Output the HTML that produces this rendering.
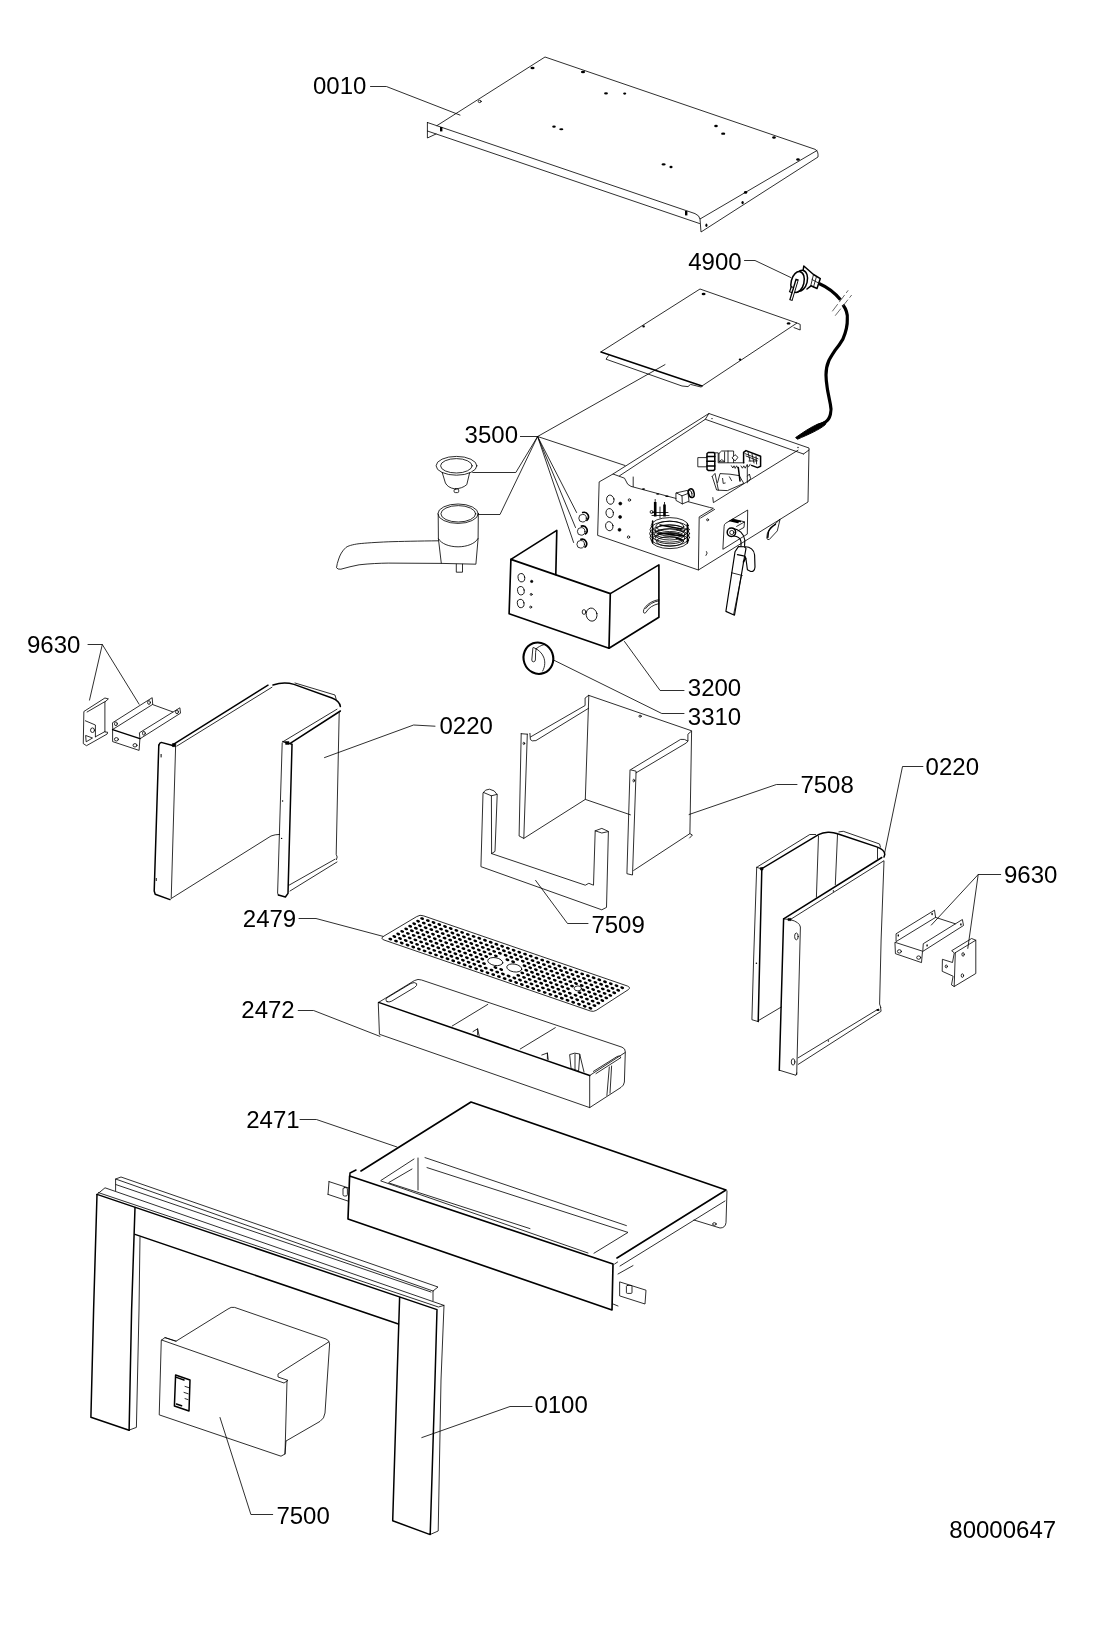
<!DOCTYPE html>
<html><head><meta charset="utf-8"><title>80000647</title>
<style>
html,body{margin:0;padding:0;background:#fff}
svg{display:block;will-change:transform}
text{font-family:"Liberation Sans",sans-serif;font-size:24px;fill:#000}
.t{fill:none;stroke:#000;stroke-width:.82;stroke-linejoin:round;stroke-linecap:round}
.k{fill:none;stroke:#000;stroke-width:1.65;stroke-linejoin:round;stroke-linecap:round}
.k15{fill:none;stroke:#000;stroke-width:1.5;stroke-linejoin:round;stroke-linecap:round}
.k16{fill:none;stroke:#000;stroke-width:1.5;stroke-linejoin:round;stroke-linecap:round}
.k17{fill:none;stroke:#000;stroke-width:1.65;stroke-linejoin:round;stroke-linecap:round}
.k14{fill:none;stroke:#000;stroke-width:1.5;stroke-linejoin:round;stroke-linecap:round}
.k2{fill:none;stroke:#000;stroke-width:2.1}
.k11{fill:none;stroke:#000;stroke-width:1.15;stroke-linejoin:round;stroke-linecap:round}
.wf{fill:#fff}
.dot{fill:#000;stroke:none}
.dotr{fill:#000;stroke:#000;stroke-width:.6}
.cable{fill:none;stroke:#000;stroke-width:3.2;stroke-linecap:butt}
.fillk{fill:#000;stroke:#000;stroke-width:1;stroke-linejoin:round}
.dash{fill:none;stroke:#444;stroke-width:.8;stroke-dasharray:9 2.5}
.prong{fill:none;stroke:#000;stroke-width:3.4;stroke-linecap:butt}
.prongi{fill:none;stroke:#fff;stroke-width:1.2;stroke-linecap:butt}
.term{fill:none;stroke:#000;stroke-width:2.6}
</style></head><body>
<svg width="1100" height="1647" viewBox="0 0 1100 1647">
<rect width="1100" height="1647" fill="#fff"/>
<!-- 0010 top plate -->
<path class="t" d="M437,125.6 L545,57 L815,149.3 Q818.6,151 818,157 L701,232 L700,219"/>
<path class="t" d="M427.4,122.5 L695,213.6 Q699.5,215.5 700,219 L817,150.5"/>
<path class="t" d="M427.4,131 L699.5,223.5"/>
<path class="t" d="M427.4,122.5 V138 L436,134"/>
<g class="dot">
<ellipse cx="532.5" cy="68" rx="2.08" ry="1.17"/><ellipse cx="583" cy="72" rx="2.08" ry="1.17"/>
<ellipse cx="606" cy="93.3" rx="1.95" ry="1.17"/><ellipse cx="624.7" cy="93.6" rx="1.56" ry="1.04"/>
<ellipse cx="554" cy="126.6" rx="1.82" ry="1.17"/><ellipse cx="561.3" cy="129.3" rx="2.08" ry="1.04"/>
<ellipse cx="716" cy="126" rx="1.82" ry="1.30"/><ellipse cx="723.2" cy="133.7" rx="2.08" ry="1.17"/>
<ellipse cx="774" cy="137.5" rx="1.82" ry="1.17"/><ellipse cx="798" cy="159.5" rx="1.82" ry="1.17"/>
<ellipse cx="663.6" cy="164.4" rx="2.08" ry="1.04"/><ellipse cx="671" cy="167" rx="1.56" ry="1.17"/>
<ellipse cx="745.6" cy="192.4" rx="1.69" ry="1.30"/><ellipse cx="742.6" cy="202.6" rx="1.17" ry="1.69"/>
<ellipse cx="706.4" cy="225.2" rx="1.04" ry="1.69"/>
<rect x="440" y="127" width="2.4" height="4.4"/><rect x="685" y="211" width="2.4" height="4.4"/>
</g>
<ellipse class="t" cx="479.7" cy="101.4" rx="1.5" ry="1.2"/>

<!-- small plate (3500) -->
<path class="t" d="M601,351.8 L700,289 L797,323 L702,386"/>
<path class="k15" d="M601,352 L702,386"/>
<path class="t" d="M797,323 L800.2,324.4 V330 L794,327.6"/>
<path class="t" d="M608.5,355.6 L606,359.2 L682,386 L688,386.6 L690.5,384.4 L701,387"/>
<g class="dot"><ellipse cx="703.6" cy="294" rx="1.95" ry="1.17"/><ellipse cx="788.6" cy="323.4" rx="1.82" ry="1.17"/>
<ellipse cx="643.6" cy="326.4" rx="1.30" ry="1.04"/><ellipse cx="740" cy="359.6" rx="1.30" ry="1.04"/></g>

<!-- 4900 plug + cable -->
<path class="cable" d="M819,283.5 C827,287 835,293 840.5,299.8"/>
<path class="cable" d="M842.9,304.7 C846,309 847.8,314 847.3,319 C847.6,326 845.5,333 842.9,339.1 C840,344 837,348 835.3,350 C832,355 830,358 828.7,361 C826.5,366 826,371 826,375.1 C826,381 827,386 827.6,390.4 L830.4,404.5 C831.3,408 831.3,411 830.4,414.4 C829.5,418 828,420.5 825.5,422 C822,424.5 819,425.5 816.7,426.4"/>
<path class="fillk" d="M818,424 L826.4,421.2 L825.4,424.6 C819,430 808,434.6 797.6,439.2 L795.6,437.6 C803,432.4 810,427.6 818,424 Z"/>
<path class="dash" d="M832.3,311.3 L848.2,290.3 M835.2,315.7 L851.7,295"/>
<path class="k15 wf" d="M803.2,270 L803.8,266 L813.5,274.5 L820.3,278.6 L817,288.5 L811,285.8 L807,289"/>
<path class="t" d="M813.5,274.5 L810.8,285.5 M816.5,276.5 L813.5,287 M812,279.5 L818.5,283"/>
<g transform="rotate(14 800 281)"><ellipse class="k15 wf" cx="800.6" cy="280.6" rx="6.6" ry="10.6"/></g>
<g transform="rotate(14 797.6 282)"><ellipse class="k15 wf" cx="797.6" cy="282" rx="6.4" ry="10.6"/></g>
<path class="prong" d="M797.2,279 L790.8,300.6"/>
<path class="prongi" d="M797,280.6 L791.2,299.6"/>
<path class="prong" d="M792.6,286.6 L790.4,292.6"/><path class="prongi" d="M792.3,287.6 L790.8,291.8"/>

<!-- 3500 box -->
<path class="t wf" d="M599.5,481.7 L613,474 L624.5,478.2 L627.7,484.2 L631,486.4 L709.5,507.4 L713.4,508.3 L699.2,516.9 L698.4,570 L598,535.5 Z"/>
<path class="t" d="M613,474 L708.9,413.5 L809,448 L808,502 L698.4,570"/>
<path class="t" d="M712.8,497.6 L713.4,502.6 L798,450.2"/>
<path class="t" d="M700.6,518 L714.6,509.4"/>
<path class="t" d="M619.5,475.8 L705.3,419.3 L803.5,454"/>
<path class="t" d="M705.3,419.3 L708.9,413.5 M803.5,454 L809,450"/>
<path class="t" d="M633.2,477 V486.6"/>
<g class="dot"><ellipse cx="643.5" cy="489.1" rx="1.6" ry="0.8"/><ellipse cx="657.7" cy="494" rx="1.6" ry="0.8"/><ellipse cx="667" cy="496.3" rx="1.8" ry="0.8"/>
<circle cx="712" cy="418.6" r="0.7"/><circle cx="798" cy="447.5" r="0.7"/></g>
<!-- front-left face holes -->
<ellipse class="t" cx="610.3" cy="499.7" rx="3.7" ry="4.6" transform="rotate(-12 610.3 499.7)"/>
<ellipse class="t" cx="609.7" cy="513.1" rx="3.7" ry="4.6" transform="rotate(-12 609.7 513.1)"/>
<ellipse class="t" cx="609.3" cy="526.2" rx="3.7" ry="4.6" transform="rotate(-12 609.3 526.2)"/>
<g class="dotr"><circle cx="620.3" cy="503.6" r="1.5"/><circle cx="620.1" cy="516.9" r="1.5"/><circle cx="619.5" cy="529.8" r="1.5"/></g>
<circle class="t" cx="629.4" cy="500" r="1.2"/><circle class="t" cx="628.5" cy="537.1" r="1.2"/>
<circle class="t" cx="707.6" cy="519.8" r="1"/><path class="t" d="M706.6,551.5 q1.6,1.2 -0.6,4"/>
<!-- cylinder on top edge -->
<path class="t wf" d="M676.3,492.9 L687.7,490.3 L689,501.2 L682.3,503.9 L676.3,500.6 Z"/>
<path class="t" d="M676.3,492.9 L682,495.8 L682.3,503.9 M682,495.8 L688,493.5"/>
<ellipse class="k15 wf" cx="691.3" cy="493.2" rx="2.8" ry="4.4" transform="rotate(-15 691.3 493.2)"/>
<ellipse class="t" cx="690.3" cy="493.5" rx="1.6" ry="3.2" transform="rotate(-15 690.3 493.5)"/>
<!-- coil -->
<g class="t">
<ellipse cx="669.8" cy="525.6" rx="18.6" ry="8"/><ellipse cx="669.8" cy="526.4" rx="14" ry="5.2"/>
<ellipse cx="669.6" cy="529.6" rx="19.6" ry="8.4"/><ellipse cx="669.8" cy="530.4" rx="15" ry="5.6"/>
<ellipse cx="669.6" cy="533.6" rx="20" ry="8.6"/><ellipse cx="669.8" cy="534.4" rx="15.4" ry="5.6"/>
<ellipse cx="669.8" cy="537.4" rx="19.8" ry="8.6"/><ellipse cx="670" cy="538.4" rx="15" ry="5.4"/>
<ellipse cx="670" cy="540.6" rx="18.6" ry="8"/><ellipse cx="670" cy="541.4" rx="13.6" ry="4.8"/>
</g>
<path class="k15" d="M652.6,521 V543 M687.4,524 V543 M660,525 L682,529 M658,533 L684,536 M676,538 L682,540"/>
<!-- terminals -->
<path class="term" d="M655.2,502 V516.5 M664.5,504.6 V516.5"/><path class="t" d="M655.2,499.4 V503 M664.5,502.4 V505"/>
<path class="t" d="M652,512.5 H668 M652,515.5 H669 M660,507 V518"/>
<circle class="t" cx="651.6" cy="512" r="1.5"/>
<!-- valve assembly -->
<rect class="t wf" x="698.2" y="457.6" width="9.5" height="9.2"/>
<path class="k15 wf" d="M707,453.5 L708.5,452.4 H713.6 L714.8,453.5 V469.4 L713.6,470.6 H708.5 L707,469.4 Z"/>
<path class="k15" d="M707,456.6 H714.8 M707,461.2 H714.8 M707,466 H714.8"/>
<path class="t" d="M714.8,452.8 H718.2 V462.8 H744 M719,453.4 L721.6,451 H733.6 V462.6 M719,453.4 V461.8 H724.6 V452 M728,451 V462.6 M724.6,461.8 L721.8,459.6 L719.2,461.6"/>
<path class="t wf" d="M732.2,457.7 L735,454.7 L738,457.3 L735.4,460.6 Z"/>
<path class="k15" d="M743.6,462.8 V452.4 L746,450.6 L760.6,456.2 V466.2 L757.5,467.6 L751.5,465.4"/>
<path class="t" d="M745,453.6 L758,458.8 M746,456 L757,460.4 M748,452 L750,461 M752,454 L754,463 M756,456 L756.6,464 M749,461 H757"/>
<path class="t" d="M731.4,465.8 l1.4,2.2 l1.2,-2.2 l1.2,2.6 l1.4,-2.6 l1.4,2.4 M741,466 l1.4,2.2 l1.4,-2.4 l1.4,2.4 l1.6,-3 l1.8,1.6 l1.6,-2.6"/>
<path class="k15" d="M738.3,467.5 L740,481"/>
<path class="t" d="M747.3,464.6 V482.8 M747.5,476 L749.4,474 L750.6,478.4 L748.8,481.2"/>
<path class="t" d="M712.2,476.4 L715,473.4 L718.4,490.2 L727.4,490.6 L743.8,483.4 L739.2,475.6 L730,474.2 L720,473.6 L717.6,482.6 M712.2,476.4 L716.6,490 L718.4,490.2 M722.6,478.4 L723.2,483.4 L725.2,483 M729.4,476.8 L731.6,480.6"/>
<!-- hook at right -->
<path class="t" d="M780,519.6 L777.3,530.9 L769.2,539.6 Q767,540 766.8,538 L767.3,533.6 Q769,529.6 772.7,526.4 Z"/>
<path class="k15" d="M775.4,524.4 Q770,527.4 768.4,531.8 L767.8,537.4"/>
<!-- cutout on right face and wand -->
<path class="t" d="M724.1,526 Q724.1,524.3 725.6,523.3 L747.7,510 L747.3,534.1 L723.2,549.1 Z"/>
<path class="t" d="M729.1,521.2 L732.7,519.1 L744.5,521.8 L744,527.4 L738,530.8 M736.6,526.4 L744.4,522"/>
<path class="k15" d="M730.4,520.8 L738,522.6 M732.4,519.8 L740.4,521.6"/>
<circle class="k15 wf" cx="731.4" cy="532.3" r="4.2"/><circle class="t" cx="731.8" cy="532.5" r="2.1"/>
<path class="k11" d="M733,528.4 C739,529.4 744,533.6 744.8,540 L744.6,545.4 M733.6,536 C737,536.2 740.4,538 741,541.6 L741,545.4"/>
<path class="k11 wf" d="M735,551.8 L738.4,546.6 L744.5,546.8 L746,548.4 L743.6,561.8 L734.5,615.2 L725.9,611.4 Z"/>
<path class="k11" d="M744.5,546.8 C750,546.4 754.4,550 754.6,555 L755,567 C754.8,571 752.4,572.2 749.8,571 L747.4,569.8 L745.9,558.2 Q745.6,556 743.6,555.9 L737.4,554.6"/>
<path class="t" d="M731.4,572.7 L742.3,575.5 M741.4,575.6 L733.6,614.6"/>
<path class="k15" d="M743.4,562 L745.6,558.4"/>
<!-- push buttons -->
<path class="k" d="M582.7,512.5 A4.5,4.5 0 0 1 586.8,520.3"/><circle class="t wf" cx="582.6" cy="518.2" r="3.8"/>
<path class="k" d="M581.4,526.1 A4.5,4.5 0 0 1 585.5,533.9"/><circle class="t wf" cx="581.2" cy="531.4" r="3.8"/>
<path class="k" d="M580.9,539.3 A4.5,4.5 0 0 1 585.0,547.1"/><circle class="t wf" cx="580.7" cy="544.3" r="3.8"/>
<!-- filter basket -->
<ellipse class="t" cx="456.5" cy="465.8" rx="20.4" ry="9.4"/><ellipse class="t" cx="456.4" cy="465.8" rx="15.8" ry="7.2"/>
<path class="t" d="M442.2,472.4 L445.4,483 Q447.8,487.6 454.4,488.8 Q462,488.8 466.8,484.6 L469.6,472.8"/>
<rect class="t" x="454.1" y="489" width="4.6" height="3.6" rx="1.2"/>
<!-- portafilter -->
<ellipse class="t" cx="458.1" cy="513.7" rx="20.2" ry="9.7"/><ellipse class="t" cx="458.3" cy="513.8" rx="17.4" ry="8.2"/>
<path class="t" d="M438.2,513.9 L438.4,538.6 L441.3,563.4 L475.9,564.2 L478.1,538.6 L478.3,513.9"/>
<path class="t" d="M438.4,538.6 C444,549.6 472,549.8 478.1,538.4"/>
<path class="t" d="M456.3,564.2 V572.2 H462.5 V564.2"/>
<path class="t" d="M438.4,540.8 C420,541 400,541.4 388.2,541.8 C375,542.4 366,543 359.1,543.7 C352,544.6 348,546 346,547.4 C342,551 340,555 338.7,559 C337.6,562 336.8,565 336.5,567.7 Q337.6,569.6 340.9,569.2 C347,567.6 353,565.8 359.1,564.8 C370,563.6 380,563.2 388.2,563.1 L441.3,563.4"/>

<!-- 3200 cover -->
<path class="k wf" d="M510.9,559.4 L610.3,593.6 L609,648.2 L509.1,613.8 Z"/>
<path class="k" d="M510.9,559.4 L556.8,530.4 L555.8,574.6"/>
<path class="k" d="M610.3,593.6 L658.9,564.9 V617.2 L609,648.2"/>
<path class="t" d="M658.9,599.6 C653,600.4 647.6,603.6 644.6,608 C642.6,611.4 643.2,614.4 645.8,612.6 C648.6,607.6 653,605 658.9,603.6"/>
<path class="t" d="M658.9,600.8 C653.6,601.6 648.6,604.4 645.6,608.6"/>
<ellipse class="t" cx="521.4" cy="577.7" rx="3.3" ry="4.2" transform="rotate(-12 521.4 577.7)"/>
<ellipse class="t" cx="520.9" cy="590.7" rx="3.3" ry="4.2" transform="rotate(-12 520.9 590.7)"/>
<ellipse class="t" cx="520.7" cy="603.5" rx="3.3" ry="4.2" transform="rotate(-12 520.7 603.5)"/>
<g class="dotr"><circle cx="531.7" cy="581.4" r="1.2"/></g><circle class="t" cx="531.2" cy="594.4" r="1"/><circle class="t" cx="530.7" cy="607.1" r="1"/>
<ellipse class="t" cx="591.6" cy="614.6" rx="5.4" ry="6.6" transform="rotate(-12 591.6 614.6)"/><ellipse class="t" cx="584" cy="612" rx="1.8" ry="2.4"/>
<!-- 3310 knob -->
<ellipse class="k2" cx="538.4" cy="658.2" rx="14.8" ry="15.8" transform="rotate(-20 538.4 658.2)"/>
<path class="t" d="M533.5,647.5 C538,649 542,653 543.6,657 C545.2,661 545.4,666 542.7,671"/>
<path class="t" d="M535.6,649.1 C538,647 541,645.4 543.8,644.7"/>
<path class="t" d="M532.9,648 L531.8,660 Q532,662 533.6,661.8 Q535.2,661.6 535.4,660 L535.6,652.4 Q535.6,650 536.6,649"/>
<!-- 9630 left: small bracket -->
<path class="t" d="M84.2,711.3 L104.9,698 L108.4,698.9 L104.9,702 V732 L107.6,732.2 L107.2,734 L86.5,745.7 L83.6,743.8 Z"/>
<path class="t" d="M87.1,712 L105,701.6 M85.4,720.8 L95.4,725 V736.8 M86,735.6 L92.5,738 L86.5,741.6 Z M95.4,736.8 L104.9,731.6"/>
<ellipse class="t" cx="92.5" cy="730.2" rx="2" ry="2.3"/>
<!-- 9630 left: channel bracket -->
<path class="t" d="M112.8,722.6 L152.2,697.7 L152.7,704.4 L113.1,729.2 Z"/>
<path class="t" d="M152.7,704.6 L172.8,711.9"/>
<path class="t" d="M139.7,732.6 L179.9,707.8 L180.5,713.2 L140.3,738.6 Z"/>
<path class="k15" d="M112.6,729.6 L139.9,738.6"/>
<path class="t" d="M112.6,729.6 V741.6 L139.1,750.4 L139.9,738.6"/>
<ellipse class="t" cx="115.9" cy="723.8" rx="1.4" ry="1.9"/><ellipse class="t" cx="149" cy="702.5" rx="1.4" ry="1.9"/>
<ellipse class="t" cx="143.9" cy="733.3" rx="1.4" ry="1.9"/><ellipse class="t" cx="177" cy="711.9" rx="1.4" ry="1.9"/>
<ellipse class="t" cx="116.4" cy="739.3" rx="2" ry="1.7"/><ellipse class="t" cx="135" cy="745.3" rx="2" ry="1.7"/>
<!-- 0220 left panel -->
<path class="k15" d="M159,745 Q159.4,742.6 161.2,742.4 L173.6,745.8"/>
<path class="k16" d="M158.8,745 L154.2,891 L155.2,894.2 L170,899.6"/>
<path class="t" d="M175.6,746.6 L171.2,898.6"/>
<path class="k16" d="M173.4,744.4 L268,685.2"/>
<path class="t" d="M177,746 L272,687.2"/>
<path class="dotr" d="M172.4,743.6 h3.4 v3 h-3.4 z"/>
<path class="k16" d="M273,685 C279,683 288,682.6 294,684.4 L332,698 C337,700 340,703 340.4,706.6"/>
<path class="t" d="M295,683 L335,695 L336.2,699.4"/>
<path class="t" d="M282.8,741.8 L337,709.2"/>
<path class="k16" d="M290.6,743.2 L340.4,711"/>
<path class="t" d="M339.2,712.6 L336.2,854.4 L337.2,857 L336.4,859.6"/>
<path class="k15" d="M283,741.6 L292,744.2"/>
<path class="t" d="M282.2,743 L277.6,893 L278.4,895.2"/>
<path class="k16" d="M292,745 L288,893.4 L285.4,897 L278.4,895"/>
<path class="t" d="M289,885.2 L335,859.2 M290,891 L337,862"/>
<path class="t" d="M172,898 L271,836 Q275,834.4 279.6,834.4"/>
<g class="dot"><circle cx="282.6" cy="801" r="0.7"/><circle cx="281.6" cy="838.4" r="0.7"/><rect x="160.6" y="754" width="1" height="3.4"/><rect x="155.8" y="878" width="0.9" height="3"/></g>
<path class="dotr" d="M285.6,741.6 h3.4 v2.8 h-3.4 z"/>

<!-- 7508 -->
<path class="t" d="M588.8,695.4 L691.6,730.8 L689.9,833.6 L633.7,870.4"/>
<path class="t" d="M588.8,695.4 L585.3,799.4 L630.4,814.8 M585.3,799.4 L523.8,838.4"/>
<path class="t" d="M521.2,733.7 L527.3,734.2 M529.9,733.4 L530.4,739.6 Q531.5,741.6 535.9,740.6 L588.4,708.4"/>
<path class="t" d="M530.6,736.9 L585.1,705.5 V698 L588.6,695.4"/>
<path class="t" d="M521.2,733.7 L519.1,836 L523.8,838.4 L527.3,734.2"/>
<path class="t" d="M630.4,769.8 L636.1,771.2 L632.5,875 L627.3,873.8 Z"/>
<path class="t" d="M631.4,769.2 L680.6,739.4 Q684.6,738.6 687.9,741.1 V734.2 L691.4,731.2"/>
<path class="t" d="M636.1,772.8 L686.4,742.9 L687.9,741.1"/>
<ellipse class="t" cx="640.1" cy="716.2" rx="1.2" ry="1"/><ellipse class="t" cx="633.8" cy="780.6" rx="0.8" ry="1.4"/><ellipse class="t" cx="523.9" cy="743.4" rx="0.8" ry="1.2"/>
<path class="t" d="M689.9,833.6 L692.4,835 L689.6,838"/>
<!-- 7509 -->
<path class="t" d="M483.2,792.6 Q485,789.2 489.5,789.2 Q495,790 497.2,794.6 L495,851.4 L491.6,853.6 L585.3,885.2 L588.8,883.3 L593.5,885.2 L595.2,830.8 L601.8,828.4 L608.4,831.4 L606.5,907.4 L601.8,909.8 L481.3,866.8 Z"/>
<path class="t" d="M483.4,792.4 L491.4,795.8 L491.6,853.6 M491.4,795.8 L497,794.4"/>
<path class="t" d="M595.2,830.8 L601.8,833 L608.2,831.6"/>
<!-- 0220 right panel -->
<path class="t" d="M756.7,867.3 L753.6,960 L751.9,1019.7 L758.2,1021.6"/>
<path class="k16" d="M761.8,869.5 L758.2,1021.5"/>
<path class="t" d="M756.7,867.3 L761.8,869"/>
<path class="t" d="M757.5,866.8 L809.8,834.5 H815.6"/>
<path class="k16" d="M761.8,868.7 L818.5,834.6 C824,831.6 832,831.4 837.5,833.8 L876.7,846.9 C881,848.4 884.6,851 884.8,854.4 L884,857"/>
<path class="t" d="M838.9,831.9 L843.3,831.3 L879.6,844 L880.4,847"/>
<path class="t" d="M818.5,836 L816.4,897.2 M837.5,834.5 L835.3,884.8 M877.5,847.6 V858.6"/>
<path class="k16" d="M783.6,918.9 L881.8,857.5"/>
<path class="t" d="M790.2,919.6 L884,860.7 L881.1,940 L879.6,1004 L880.8,1007.6"/>
<path class="k16" d="M783.6,918.9 L779.3,1070.2"/>
<path class="t" d="M783.6,918.9 L790.2,919.6 Q799.6,922 800.4,927 L796.7,1074.5"/>
<path class="t" d="M779.3,1070.2 L796,1075.3 L796.8,1073"/>
<path class="t" d="M798.2,1057.8 L878.2,1009.1 M798.2,1064.4 L881.1,1011.3 L880.6,1007.6"/>
<path class="t" d="M758.2,1020.7 L781.5,1006.9"/>
<ellipse class="t" cx="796.4" cy="936.4" rx="1.8" ry="3.4"/><ellipse class="t" cx="793.1" cy="1061.9" rx="1.8" ry="3.2"/>
<g class="dot"><circle cx="756.4" cy="963.3" r="0.8"/><circle cx="833.4" cy="891" r="0.7"/><circle cx="828.4" cy="1041" r="0.7"/><ellipse cx="878" cy="1010" rx="1.6" ry="1"/></g>
<!-- 9630 right: channel -->
<path class="t" d="M896.4,933.6 L934.5,910.2 L935.6,917.4 L896.4,941.4 Z"/>
<path class="t" d="M935.6,917.4 L955.3,923.8"/>
<path class="t" d="M923.6,943.5 L962.4,919.5 L963.5,925.5 L923.1,951.2 Z"/>
<path class="t" d="M895.3,942.4 L922.5,951.2 L921.5,962.6 L895.8,953.8 Z"/>
<g class="dot"><ellipse cx="898.3" cy="935.4" rx="0.7" ry="1.2"/><ellipse cx="932.1" cy="914" rx="0.7" ry="1.2"/><ellipse cx="927.1" cy="945.4" rx="0.7" ry="1.2"/><ellipse cx="960.9" cy="924.4" rx="0.7" ry="1.2"/></g>
<ellipse class="t" cx="899.4" cy="951.4" rx="2" ry="1.7"/><ellipse class="t" cx="918.7" cy="957.6" rx="2" ry="1.7"/>
<!-- 9630 right: small bracket -->
<path class="t" d="M952,950.5 L971.6,938.5 L975.8,940.2 V973.5 L954.2,986.5 L951.5,984.9 L953.1,976.2 L942.2,971.3 L942.4,959.3 L952.5,962.5 L954.2,953.3 Z"/>
<path class="t" d="M955.3,952.7 L975.8,940.2 M955.3,952.7 L954.2,986.5"/>
<ellipse class="t" cx="963.1" cy="954.4" rx="1.2" ry="1.8"/><ellipse class="t" cx="962.4" cy="975.6" rx="1.2" ry="1.8"/><ellipse class="t" cx="946.3" cy="966.4" rx="1.1" ry="1.4"/>
<path class="dotr" d="M760.4,867.6 h2.6 v2.4 h-2.6 z M788,918.4 h3 v2.2 h-3 z"/>

<!-- 2479 grid outline -->
<path class="t" d="M417,916.4 Q420,914.4 423.4,915.8 L627.4,986 Q631,987.6 628.4,989.6 L596.2,1010.4 Q593.4,1012 590.4,1011 L384,940 Q380,938.4 383.4,936.4 Z"/>
<g class="dot" transform=""><ellipse cx="422.1" cy="918.6" rx="2" ry="1.3" transform="rotate(19 422.1 918.6)"/><ellipse cx="418.1" cy="921.2" rx="2" ry="1.3" transform="rotate(19 418.1 921.2)"/><ellipse cx="414.2" cy="923.7" rx="2" ry="1.3" transform="rotate(19 414.2 923.7)"/><ellipse cx="410.2" cy="926.3" rx="2" ry="1.3" transform="rotate(19 410.2 926.3)"/><ellipse cx="406.2" cy="928.9" rx="2" ry="1.3" transform="rotate(19 406.2 928.9)"/><ellipse cx="402.2" cy="931.4" rx="2" ry="1.3" transform="rotate(19 402.2 931.4)"/><ellipse cx="398.2" cy="934.0" rx="2" ry="1.3" transform="rotate(19 398.2 934.0)"/><ellipse cx="394.3" cy="936.5" rx="2" ry="1.3" transform="rotate(19 394.3 936.5)"/><ellipse cx="390.3" cy="939.1" rx="2" ry="1.3" transform="rotate(19 390.3 939.1)"/><ellipse cx="427.8" cy="920.6" rx="2" ry="1.3" transform="rotate(19 427.8 920.6)"/><ellipse cx="423.8" cy="923.1" rx="2" ry="1.3" transform="rotate(19 423.8 923.1)"/><ellipse cx="419.9" cy="925.7" rx="2" ry="1.3" transform="rotate(19 419.9 925.7)"/><ellipse cx="415.9" cy="928.3" rx="2" ry="1.3" transform="rotate(19 415.9 928.3)"/><ellipse cx="411.9" cy="930.8" rx="2" ry="1.3" transform="rotate(19 411.9 930.8)"/><ellipse cx="407.9" cy="933.4" rx="2" ry="1.3" transform="rotate(19 407.9 933.4)"/><ellipse cx="404.0" cy="935.9" rx="2" ry="1.3" transform="rotate(19 404.0 935.9)"/><ellipse cx="400.0" cy="938.5" rx="2" ry="1.3" transform="rotate(19 400.0 938.5)"/><ellipse cx="396.0" cy="941.1" rx="2" ry="1.3" transform="rotate(19 396.0 941.1)"/><ellipse cx="433.5" cy="922.5" rx="2" ry="1.3" transform="rotate(19 433.5 922.5)"/><ellipse cx="429.6" cy="925.1" rx="2" ry="1.3" transform="rotate(19 429.6 925.1)"/><ellipse cx="425.6" cy="927.7" rx="2" ry="1.3" transform="rotate(19 425.6 927.7)"/><ellipse cx="421.6" cy="930.2" rx="2" ry="1.3" transform="rotate(19 421.6 930.2)"/><ellipse cx="417.6" cy="932.8" rx="2" ry="1.3" transform="rotate(19 417.6 932.8)"/><ellipse cx="413.7" cy="935.4" rx="2" ry="1.3" transform="rotate(19 413.7 935.4)"/><ellipse cx="409.7" cy="937.9" rx="2" ry="1.3" transform="rotate(19 409.7 937.9)"/><ellipse cx="405.7" cy="940.5" rx="2" ry="1.3" transform="rotate(19 405.7 940.5)"/><ellipse cx="401.7" cy="943.0" rx="2" ry="1.3" transform="rotate(19 401.7 943.0)"/><ellipse cx="439.3" cy="924.5" rx="2" ry="1.3" transform="rotate(19 439.3 924.5)"/><ellipse cx="435.3" cy="927.1" rx="2" ry="1.3" transform="rotate(19 435.3 927.1)"/><ellipse cx="431.3" cy="929.6" rx="2" ry="1.3" transform="rotate(19 431.3 929.6)"/><ellipse cx="427.3" cy="932.2" rx="2" ry="1.3" transform="rotate(19 427.3 932.2)"/><ellipse cx="423.4" cy="934.8" rx="2" ry="1.3" transform="rotate(19 423.4 934.8)"/><ellipse cx="419.4" cy="937.3" rx="2" ry="1.3" transform="rotate(19 419.4 937.3)"/><ellipse cx="415.4" cy="939.9" rx="2" ry="1.3" transform="rotate(19 415.4 939.9)"/><ellipse cx="411.4" cy="942.5" rx="2" ry="1.3" transform="rotate(19 411.4 942.5)"/><ellipse cx="407.5" cy="945.0" rx="2" ry="1.3" transform="rotate(19 407.5 945.0)"/><ellipse cx="445.0" cy="926.5" rx="2" ry="1.3" transform="rotate(19 445.0 926.5)"/><ellipse cx="441.0" cy="929.1" rx="2" ry="1.3" transform="rotate(19 441.0 929.1)"/><ellipse cx="437.0" cy="931.6" rx="2" ry="1.3" transform="rotate(19 437.0 931.6)"/><ellipse cx="433.0" cy="934.2" rx="2" ry="1.3" transform="rotate(19 433.0 934.2)"/><ellipse cx="429.1" cy="936.7" rx="2" ry="1.3" transform="rotate(19 429.1 936.7)"/><ellipse cx="425.1" cy="939.3" rx="2" ry="1.3" transform="rotate(19 425.1 939.3)"/><ellipse cx="421.1" cy="941.9" rx="2" ry="1.3" transform="rotate(19 421.1 941.9)"/><ellipse cx="417.1" cy="944.4" rx="2" ry="1.3" transform="rotate(19 417.1 944.4)"/><ellipse cx="413.2" cy="947.0" rx="2" ry="1.3" transform="rotate(19 413.2 947.0)"/><ellipse cx="450.7" cy="928.5" rx="2" ry="1.3" transform="rotate(19 450.7 928.5)"/><ellipse cx="446.7" cy="931.0" rx="2" ry="1.3" transform="rotate(19 446.7 931.0)"/><ellipse cx="442.7" cy="933.6" rx="2" ry="1.3" transform="rotate(19 442.7 933.6)"/><ellipse cx="438.8" cy="936.2" rx="2" ry="1.3" transform="rotate(19 438.8 936.2)"/><ellipse cx="434.8" cy="938.7" rx="2" ry="1.3" transform="rotate(19 434.8 938.7)"/><ellipse cx="430.8" cy="941.3" rx="2" ry="1.3" transform="rotate(19 430.8 941.3)"/><ellipse cx="426.8" cy="943.8" rx="2" ry="1.3" transform="rotate(19 426.8 943.8)"/><ellipse cx="422.9" cy="946.4" rx="2" ry="1.3" transform="rotate(19 422.9 946.4)"/><ellipse cx="418.9" cy="949.0" rx="2" ry="1.3" transform="rotate(19 418.9 949.0)"/><ellipse cx="456.4" cy="930.4" rx="2" ry="1.3" transform="rotate(19 456.4 930.4)"/><ellipse cx="452.4" cy="933.0" rx="2" ry="1.3" transform="rotate(19 452.4 933.0)"/><ellipse cx="448.5" cy="935.6" rx="2" ry="1.3" transform="rotate(19 448.5 935.6)"/><ellipse cx="444.5" cy="938.1" rx="2" ry="1.3" transform="rotate(19 444.5 938.1)"/><ellipse cx="440.5" cy="940.7" rx="2" ry="1.3" transform="rotate(19 440.5 940.7)"/><ellipse cx="436.5" cy="943.3" rx="2" ry="1.3" transform="rotate(19 436.5 943.3)"/><ellipse cx="432.6" cy="945.8" rx="2" ry="1.3" transform="rotate(19 432.6 945.8)"/><ellipse cx="428.6" cy="948.4" rx="2" ry="1.3" transform="rotate(19 428.6 948.4)"/><ellipse cx="424.6" cy="950.9" rx="2" ry="1.3" transform="rotate(19 424.6 950.9)"/><ellipse cx="462.1" cy="932.4" rx="2" ry="1.3" transform="rotate(19 462.1 932.4)"/><ellipse cx="458.1" cy="935.0" rx="2" ry="1.3" transform="rotate(19 458.1 935.0)"/><ellipse cx="454.2" cy="937.5" rx="2" ry="1.3" transform="rotate(19 454.2 937.5)"/><ellipse cx="450.2" cy="940.1" rx="2" ry="1.3" transform="rotate(19 450.2 940.1)"/><ellipse cx="446.2" cy="942.7" rx="2" ry="1.3" transform="rotate(19 446.2 942.7)"/><ellipse cx="442.2" cy="945.2" rx="2" ry="1.3" transform="rotate(19 442.2 945.2)"/><ellipse cx="438.3" cy="947.8" rx="2" ry="1.3" transform="rotate(19 438.3 947.8)"/><ellipse cx="434.3" cy="950.4" rx="2" ry="1.3" transform="rotate(19 434.3 950.4)"/><ellipse cx="430.3" cy="952.9" rx="2" ry="1.3" transform="rotate(19 430.3 952.9)"/><ellipse cx="467.8" cy="934.4" rx="2" ry="1.3" transform="rotate(19 467.8 934.4)"/><ellipse cx="463.9" cy="937.0" rx="2" ry="1.3" transform="rotate(19 463.9 937.0)"/><ellipse cx="459.9" cy="939.5" rx="2" ry="1.3" transform="rotate(19 459.9 939.5)"/><ellipse cx="455.9" cy="942.1" rx="2" ry="1.3" transform="rotate(19 455.9 942.1)"/><ellipse cx="451.9" cy="944.6" rx="2" ry="1.3" transform="rotate(19 451.9 944.6)"/><ellipse cx="448.0" cy="947.2" rx="2" ry="1.3" transform="rotate(19 448.0 947.2)"/><ellipse cx="444.0" cy="949.8" rx="2" ry="1.3" transform="rotate(19 444.0 949.8)"/><ellipse cx="440.0" cy="952.3" rx="2" ry="1.3" transform="rotate(19 440.0 952.3)"/><ellipse cx="436.0" cy="954.9" rx="2" ry="1.3" transform="rotate(19 436.0 954.9)"/><ellipse cx="473.6" cy="936.4" rx="2" ry="1.3" transform="rotate(19 473.6 936.4)"/><ellipse cx="469.6" cy="938.9" rx="2" ry="1.3" transform="rotate(19 469.6 938.9)"/><ellipse cx="465.6" cy="941.5" rx="2" ry="1.3" transform="rotate(19 465.6 941.5)"/><ellipse cx="461.6" cy="944.1" rx="2" ry="1.3" transform="rotate(19 461.6 944.1)"/><ellipse cx="457.7" cy="946.6" rx="2" ry="1.3" transform="rotate(19 457.7 946.6)"/><ellipse cx="453.7" cy="949.2" rx="2" ry="1.3" transform="rotate(19 453.7 949.2)"/><ellipse cx="449.7" cy="951.7" rx="2" ry="1.3" transform="rotate(19 449.7 951.7)"/><ellipse cx="445.7" cy="954.3" rx="2" ry="1.3" transform="rotate(19 445.7 954.3)"/><ellipse cx="441.8" cy="956.9" rx="2" ry="1.3" transform="rotate(19 441.8 956.9)"/><ellipse cx="479.3" cy="938.3" rx="2" ry="1.3" transform="rotate(19 479.3 938.3)"/><ellipse cx="475.3" cy="940.9" rx="2" ry="1.3" transform="rotate(19 475.3 940.9)"/><ellipse cx="471.3" cy="943.5" rx="2" ry="1.3" transform="rotate(19 471.3 943.5)"/><ellipse cx="467.3" cy="946.0" rx="2" ry="1.3" transform="rotate(19 467.3 946.0)"/><ellipse cx="463.4" cy="948.6" rx="2" ry="1.3" transform="rotate(19 463.4 948.6)"/><ellipse cx="459.4" cy="951.2" rx="2" ry="1.3" transform="rotate(19 459.4 951.2)"/><ellipse cx="455.4" cy="953.7" rx="2" ry="1.3" transform="rotate(19 455.4 953.7)"/><ellipse cx="451.4" cy="956.3" rx="2" ry="1.3" transform="rotate(19 451.4 956.3)"/><ellipse cx="447.5" cy="958.8" rx="2" ry="1.3" transform="rotate(19 447.5 958.8)"/><ellipse cx="485.0" cy="940.3" rx="2" ry="1.3" transform="rotate(19 485.0 940.3)"/><ellipse cx="481.0" cy="942.9" rx="2" ry="1.3" transform="rotate(19 481.0 942.9)"/><ellipse cx="477.0" cy="945.4" rx="2" ry="1.3" transform="rotate(19 477.0 945.4)"/><ellipse cx="473.1" cy="948.0" rx="2" ry="1.3" transform="rotate(19 473.1 948.0)"/><ellipse cx="469.1" cy="950.6" rx="2" ry="1.3" transform="rotate(19 469.1 950.6)"/><ellipse cx="465.1" cy="953.1" rx="2" ry="1.3" transform="rotate(19 465.1 953.1)"/><ellipse cx="461.1" cy="955.7" rx="2" ry="1.3" transform="rotate(19 461.1 955.7)"/><ellipse cx="457.2" cy="958.3" rx="2" ry="1.3" transform="rotate(19 457.2 958.3)"/><ellipse cx="453.2" cy="960.8" rx="2" ry="1.3" transform="rotate(19 453.2 960.8)"/><ellipse cx="490.7" cy="942.3" rx="2" ry="1.3" transform="rotate(19 490.7 942.3)"/><ellipse cx="486.7" cy="944.9" rx="2" ry="1.3" transform="rotate(19 486.7 944.9)"/><ellipse cx="482.8" cy="947.4" rx="2" ry="1.3" transform="rotate(19 482.8 947.4)"/><ellipse cx="478.8" cy="950.0" rx="2" ry="1.3" transform="rotate(19 478.8 950.0)"/><ellipse cx="474.8" cy="952.5" rx="2" ry="1.3" transform="rotate(19 474.8 952.5)"/><ellipse cx="470.8" cy="955.1" rx="2" ry="1.3" transform="rotate(19 470.8 955.1)"/><ellipse cx="466.9" cy="957.7" rx="2" ry="1.3" transform="rotate(19 466.9 957.7)"/><ellipse cx="462.9" cy="960.2" rx="2" ry="1.3" transform="rotate(19 462.9 960.2)"/><ellipse cx="458.9" cy="962.8" rx="2" ry="1.3" transform="rotate(19 458.9 962.8)"/><ellipse cx="496.4" cy="944.3" rx="2" ry="1.3" transform="rotate(19 496.4 944.3)"/><ellipse cx="492.4" cy="946.8" rx="2" ry="1.3" transform="rotate(19 492.4 946.8)"/><ellipse cx="488.5" cy="949.4" rx="2" ry="1.3" transform="rotate(19 488.5 949.4)"/><ellipse cx="484.5" cy="951.9" rx="2" ry="1.3" transform="rotate(19 484.5 951.9)"/><ellipse cx="480.5" cy="954.5" rx="2" ry="1.3" transform="rotate(19 480.5 954.5)"/><ellipse cx="476.5" cy="957.1" rx="2" ry="1.3" transform="rotate(19 476.5 957.1)"/><ellipse cx="472.6" cy="959.6" rx="2" ry="1.3" transform="rotate(19 472.6 959.6)"/><ellipse cx="468.6" cy="962.2" rx="2" ry="1.3" transform="rotate(19 468.6 962.2)"/><ellipse cx="464.6" cy="964.8" rx="2" ry="1.3" transform="rotate(19 464.6 964.8)"/><ellipse cx="502.1" cy="946.2" rx="2" ry="1.3" transform="rotate(19 502.1 946.2)"/><ellipse cx="498.2" cy="948.8" rx="2" ry="1.3" transform="rotate(19 498.2 948.8)"/><ellipse cx="494.2" cy="951.4" rx="2" ry="1.3" transform="rotate(19 494.2 951.4)"/><ellipse cx="490.2" cy="953.9" rx="2" ry="1.3" transform="rotate(19 490.2 953.9)"/><ellipse cx="486.2" cy="956.5" rx="2" ry="1.3" transform="rotate(19 486.2 956.5)"/><ellipse cx="482.3" cy="959.0" rx="2" ry="1.3" transform="rotate(19 482.3 959.0)"/><ellipse cx="478.3" cy="961.6" rx="2" ry="1.3" transform="rotate(19 478.3 961.6)"/><ellipse cx="474.3" cy="964.2" rx="2" ry="1.3" transform="rotate(19 474.3 964.2)"/><ellipse cx="470.3" cy="966.7" rx="2" ry="1.3" transform="rotate(19 470.3 966.7)"/><ellipse cx="507.9" cy="948.2" rx="2" ry="1.3" transform="rotate(19 507.9 948.2)"/><ellipse cx="503.9" cy="950.8" rx="2" ry="1.3" transform="rotate(19 503.9 950.8)"/><ellipse cx="499.9" cy="953.3" rx="2" ry="1.3" transform="rotate(19 499.9 953.3)"/><ellipse cx="495.9" cy="955.9" rx="2" ry="1.3" transform="rotate(19 495.9 955.9)"/><ellipse cx="484.0" cy="963.6" rx="2" ry="1.3" transform="rotate(19 484.0 963.6)"/><ellipse cx="480.0" cy="966.1" rx="2" ry="1.3" transform="rotate(19 480.0 966.1)"/><ellipse cx="476.1" cy="968.7" rx="2" ry="1.3" transform="rotate(19 476.1 968.7)"/><ellipse cx="513.6" cy="950.2" rx="2" ry="1.3" transform="rotate(19 513.6 950.2)"/><ellipse cx="509.6" cy="952.7" rx="2" ry="1.3" transform="rotate(19 509.6 952.7)"/><ellipse cx="505.6" cy="955.3" rx="2" ry="1.3" transform="rotate(19 505.6 955.3)"/><ellipse cx="485.7" cy="968.1" rx="2" ry="1.3" transform="rotate(19 485.7 968.1)"/><ellipse cx="481.8" cy="970.7" rx="2" ry="1.3" transform="rotate(19 481.8 970.7)"/><ellipse cx="519.3" cy="952.2" rx="2" ry="1.3" transform="rotate(19 519.3 952.2)"/><ellipse cx="515.3" cy="954.7" rx="2" ry="1.3" transform="rotate(19 515.3 954.7)"/><ellipse cx="511.3" cy="957.3" rx="2" ry="1.3" transform="rotate(19 511.3 957.3)"/><ellipse cx="507.4" cy="959.8" rx="2" ry="1.3" transform="rotate(19 507.4 959.8)"/><ellipse cx="495.4" cy="967.5" rx="2" ry="1.3" transform="rotate(19 495.4 967.5)"/><ellipse cx="491.5" cy="970.1" rx="2" ry="1.3" transform="rotate(19 491.5 970.1)"/><ellipse cx="487.5" cy="972.7" rx="2" ry="1.3" transform="rotate(19 487.5 972.7)"/><ellipse cx="525.0" cy="954.1" rx="2" ry="1.3" transform="rotate(19 525.0 954.1)"/><ellipse cx="521.0" cy="956.7" rx="2" ry="1.3" transform="rotate(19 521.0 956.7)"/><ellipse cx="517.1" cy="959.3" rx="2" ry="1.3" transform="rotate(19 517.1 959.3)"/><ellipse cx="513.1" cy="961.8" rx="2" ry="1.3" transform="rotate(19 513.1 961.8)"/><ellipse cx="501.2" cy="969.5" rx="2" ry="1.3" transform="rotate(19 501.2 969.5)"/><ellipse cx="497.2" cy="972.1" rx="2" ry="1.3" transform="rotate(19 497.2 972.1)"/><ellipse cx="493.2" cy="974.6" rx="2" ry="1.3" transform="rotate(19 493.2 974.6)"/><ellipse cx="530.7" cy="956.1" rx="2" ry="1.3" transform="rotate(19 530.7 956.1)"/><ellipse cx="526.7" cy="958.7" rx="2" ry="1.3" transform="rotate(19 526.7 958.7)"/><ellipse cx="522.8" cy="961.2" rx="2" ry="1.3" transform="rotate(19 522.8 961.2)"/><ellipse cx="502.9" cy="974.0" rx="2" ry="1.3" transform="rotate(19 502.9 974.0)"/><ellipse cx="498.9" cy="976.6" rx="2" ry="1.3" transform="rotate(19 498.9 976.6)"/><ellipse cx="536.4" cy="958.1" rx="2" ry="1.3" transform="rotate(19 536.4 958.1)"/><ellipse cx="532.5" cy="960.6" rx="2" ry="1.3" transform="rotate(19 532.5 960.6)"/><ellipse cx="528.5" cy="963.2" rx="2" ry="1.3" transform="rotate(19 528.5 963.2)"/><ellipse cx="524.5" cy="965.8" rx="2" ry="1.3" transform="rotate(19 524.5 965.8)"/><ellipse cx="508.6" cy="976.0" rx="2" ry="1.3" transform="rotate(19 508.6 976.0)"/><ellipse cx="504.6" cy="978.6" rx="2" ry="1.3" transform="rotate(19 504.6 978.6)"/><ellipse cx="542.2" cy="960.1" rx="2" ry="1.3" transform="rotate(19 542.2 960.1)"/><ellipse cx="538.2" cy="962.6" rx="2" ry="1.3" transform="rotate(19 538.2 962.6)"/><ellipse cx="534.2" cy="965.2" rx="2" ry="1.3" transform="rotate(19 534.2 965.2)"/><ellipse cx="530.2" cy="967.7" rx="2" ry="1.3" transform="rotate(19 530.2 967.7)"/><ellipse cx="526.3" cy="970.3" rx="2" ry="1.3" transform="rotate(19 526.3 970.3)"/><ellipse cx="522.3" cy="972.9" rx="2" ry="1.3" transform="rotate(19 522.3 972.9)"/><ellipse cx="518.3" cy="975.4" rx="2" ry="1.3" transform="rotate(19 518.3 975.4)"/><ellipse cx="514.3" cy="978.0" rx="2" ry="1.3" transform="rotate(19 514.3 978.0)"/><ellipse cx="510.4" cy="980.6" rx="2" ry="1.3" transform="rotate(19 510.4 980.6)"/><ellipse cx="547.9" cy="962.0" rx="2" ry="1.3" transform="rotate(19 547.9 962.0)"/><ellipse cx="543.9" cy="964.6" rx="2" ry="1.3" transform="rotate(19 543.9 964.6)"/><ellipse cx="539.9" cy="967.2" rx="2" ry="1.3" transform="rotate(19 539.9 967.2)"/><ellipse cx="535.9" cy="969.7" rx="2" ry="1.3" transform="rotate(19 535.9 969.7)"/><ellipse cx="532.0" cy="972.3" rx="2" ry="1.3" transform="rotate(19 532.0 972.3)"/><ellipse cx="528.0" cy="974.8" rx="2" ry="1.3" transform="rotate(19 528.0 974.8)"/><ellipse cx="524.0" cy="977.4" rx="2" ry="1.3" transform="rotate(19 524.0 977.4)"/><ellipse cx="520.0" cy="980.0" rx="2" ry="1.3" transform="rotate(19 520.0 980.0)"/><ellipse cx="516.1" cy="982.5" rx="2" ry="1.3" transform="rotate(19 516.1 982.5)"/><ellipse cx="553.6" cy="964.0" rx="2" ry="1.3" transform="rotate(19 553.6 964.0)"/><ellipse cx="549.6" cy="966.6" rx="2" ry="1.3" transform="rotate(19 549.6 966.6)"/><ellipse cx="545.6" cy="969.1" rx="2" ry="1.3" transform="rotate(19 545.6 969.1)"/><ellipse cx="541.7" cy="971.7" rx="2" ry="1.3" transform="rotate(19 541.7 971.7)"/><ellipse cx="537.7" cy="974.3" rx="2" ry="1.3" transform="rotate(19 537.7 974.3)"/><ellipse cx="533.7" cy="976.8" rx="2" ry="1.3" transform="rotate(19 533.7 976.8)"/><ellipse cx="529.7" cy="979.4" rx="2" ry="1.3" transform="rotate(19 529.7 979.4)"/><ellipse cx="525.8" cy="981.9" rx="2" ry="1.3" transform="rotate(19 525.8 981.9)"/><ellipse cx="521.8" cy="984.5" rx="2" ry="1.3" transform="rotate(19 521.8 984.5)"/><ellipse cx="559.3" cy="966.0" rx="2" ry="1.3" transform="rotate(19 559.3 966.0)"/><ellipse cx="555.3" cy="968.5" rx="2" ry="1.3" transform="rotate(19 555.3 968.5)"/><ellipse cx="551.4" cy="971.1" rx="2" ry="1.3" transform="rotate(19 551.4 971.1)"/><ellipse cx="547.4" cy="973.7" rx="2" ry="1.3" transform="rotate(19 547.4 973.7)"/><ellipse cx="543.4" cy="976.2" rx="2" ry="1.3" transform="rotate(19 543.4 976.2)"/><ellipse cx="539.4" cy="978.8" rx="2" ry="1.3" transform="rotate(19 539.4 978.8)"/><ellipse cx="535.5" cy="981.4" rx="2" ry="1.3" transform="rotate(19 535.5 981.4)"/><ellipse cx="531.5" cy="983.9" rx="2" ry="1.3" transform="rotate(19 531.5 983.9)"/><ellipse cx="527.5" cy="986.5" rx="2" ry="1.3" transform="rotate(19 527.5 986.5)"/><ellipse cx="565.0" cy="968.0" rx="2" ry="1.3" transform="rotate(19 565.0 968.0)"/><ellipse cx="561.0" cy="970.5" rx="2" ry="1.3" transform="rotate(19 561.0 970.5)"/><ellipse cx="557.1" cy="973.1" rx="2" ry="1.3" transform="rotate(19 557.1 973.1)"/><ellipse cx="553.1" cy="975.6" rx="2" ry="1.3" transform="rotate(19 553.1 975.6)"/><ellipse cx="549.1" cy="978.2" rx="2" ry="1.3" transform="rotate(19 549.1 978.2)"/><ellipse cx="545.1" cy="980.8" rx="2" ry="1.3" transform="rotate(19 545.1 980.8)"/><ellipse cx="541.2" cy="983.3" rx="2" ry="1.3" transform="rotate(19 541.2 983.3)"/><ellipse cx="537.2" cy="985.9" rx="2" ry="1.3" transform="rotate(19 537.2 985.9)"/><ellipse cx="533.2" cy="988.5" rx="2" ry="1.3" transform="rotate(19 533.2 988.5)"/><ellipse cx="570.7" cy="969.9" rx="2" ry="1.3" transform="rotate(19 570.7 969.9)"/><ellipse cx="566.8" cy="972.5" rx="2" ry="1.3" transform="rotate(19 566.8 972.5)"/><ellipse cx="562.8" cy="975.0" rx="2" ry="1.3" transform="rotate(19 562.8 975.0)"/><ellipse cx="558.8" cy="977.6" rx="2" ry="1.3" transform="rotate(19 558.8 977.6)"/><ellipse cx="554.8" cy="980.2" rx="2" ry="1.3" transform="rotate(19 554.8 980.2)"/><ellipse cx="550.9" cy="982.7" rx="2" ry="1.3" transform="rotate(19 550.9 982.7)"/><ellipse cx="546.9" cy="985.3" rx="2" ry="1.3" transform="rotate(19 546.9 985.3)"/><ellipse cx="542.9" cy="987.9" rx="2" ry="1.3" transform="rotate(19 542.9 987.9)"/><ellipse cx="538.9" cy="990.4" rx="2" ry="1.3" transform="rotate(19 538.9 990.4)"/><ellipse cx="576.5" cy="971.9" rx="2" ry="1.3" transform="rotate(19 576.5 971.9)"/><ellipse cx="572.5" cy="974.5" rx="2" ry="1.3" transform="rotate(19 572.5 974.5)"/><ellipse cx="568.5" cy="977.0" rx="2" ry="1.3" transform="rotate(19 568.5 977.0)"/><ellipse cx="564.5" cy="979.6" rx="2" ry="1.3" transform="rotate(19 564.5 979.6)"/><ellipse cx="560.6" cy="982.1" rx="2" ry="1.3" transform="rotate(19 560.6 982.1)"/><ellipse cx="556.6" cy="984.7" rx="2" ry="1.3" transform="rotate(19 556.6 984.7)"/><ellipse cx="552.6" cy="987.3" rx="2" ry="1.3" transform="rotate(19 552.6 987.3)"/><ellipse cx="548.6" cy="989.8" rx="2" ry="1.3" transform="rotate(19 548.6 989.8)"/><ellipse cx="544.7" cy="992.4" rx="2" ry="1.3" transform="rotate(19 544.7 992.4)"/><ellipse cx="582.2" cy="973.9" rx="2" ry="1.3" transform="rotate(19 582.2 973.9)"/><ellipse cx="578.2" cy="976.4" rx="2" ry="1.3" transform="rotate(19 578.2 976.4)"/><ellipse cx="574.2" cy="979.0" rx="2" ry="1.3" transform="rotate(19 574.2 979.0)"/><ellipse cx="570.3" cy="981.6" rx="2" ry="1.3" transform="rotate(19 570.3 981.6)"/><ellipse cx="566.3" cy="984.1" rx="2" ry="1.3" transform="rotate(19 566.3 984.1)"/><ellipse cx="562.3" cy="986.7" rx="2" ry="1.3" transform="rotate(19 562.3 986.7)"/><ellipse cx="558.3" cy="989.2" rx="2" ry="1.3" transform="rotate(19 558.3 989.2)"/><ellipse cx="554.4" cy="991.8" rx="2" ry="1.3" transform="rotate(19 554.4 991.8)"/><ellipse cx="550.4" cy="994.4" rx="2" ry="1.3" transform="rotate(19 550.4 994.4)"/><ellipse cx="587.9" cy="975.8" rx="2" ry="1.3" transform="rotate(19 587.9 975.8)"/><ellipse cx="583.9" cy="978.4" rx="2" ry="1.3" transform="rotate(19 583.9 978.4)"/><ellipse cx="579.9" cy="981.0" rx="2" ry="1.3" transform="rotate(19 579.9 981.0)"/><ellipse cx="576.0" cy="983.5" rx="2" ry="1.3" transform="rotate(19 576.0 983.5)"/><ellipse cx="572.0" cy="986.1" rx="2" ry="1.3" transform="rotate(19 572.0 986.1)"/><ellipse cx="568.0" cy="988.7" rx="2" ry="1.3" transform="rotate(19 568.0 988.7)"/><ellipse cx="564.0" cy="991.2" rx="2" ry="1.3" transform="rotate(19 564.0 991.2)"/><ellipse cx="560.1" cy="993.8" rx="2" ry="1.3" transform="rotate(19 560.1 993.8)"/><ellipse cx="556.1" cy="996.3" rx="2" ry="1.3" transform="rotate(19 556.1 996.3)"/><ellipse cx="593.6" cy="977.8" rx="2" ry="1.3" transform="rotate(19 593.6 977.8)"/><ellipse cx="589.6" cy="980.4" rx="2" ry="1.3" transform="rotate(19 589.6 980.4)"/><ellipse cx="585.7" cy="982.9" rx="2" ry="1.3" transform="rotate(19 585.7 982.9)"/><ellipse cx="581.7" cy="985.5" rx="2" ry="1.3" transform="rotate(19 581.7 985.5)"/><ellipse cx="569.8" cy="993.2" rx="2" ry="1.3" transform="rotate(19 569.8 993.2)"/><ellipse cx="565.8" cy="995.8" rx="2" ry="1.3" transform="rotate(19 565.8 995.8)"/><ellipse cx="561.8" cy="998.3" rx="2" ry="1.3" transform="rotate(19 561.8 998.3)"/><ellipse cx="599.3" cy="979.8" rx="2" ry="1.3" transform="rotate(19 599.3 979.8)"/><ellipse cx="595.4" cy="982.4" rx="2" ry="1.3" transform="rotate(19 595.4 982.4)"/><ellipse cx="591.4" cy="984.9" rx="2" ry="1.3" transform="rotate(19 591.4 984.9)"/><ellipse cx="587.4" cy="987.5" rx="2" ry="1.3" transform="rotate(19 587.4 987.5)"/><ellipse cx="583.4" cy="990.0" rx="2" ry="1.3" transform="rotate(19 583.4 990.0)"/><ellipse cx="579.5" cy="992.6" rx="2" ry="1.3" transform="rotate(19 579.5 992.6)"/><ellipse cx="575.5" cy="995.2" rx="2" ry="1.3" transform="rotate(19 575.5 995.2)"/><ellipse cx="571.5" cy="997.7" rx="2" ry="1.3" transform="rotate(19 571.5 997.7)"/><ellipse cx="567.5" cy="1000.3" rx="2" ry="1.3" transform="rotate(19 567.5 1000.3)"/><ellipse cx="605.0" cy="981.8" rx="2" ry="1.3" transform="rotate(19 605.0 981.8)"/><ellipse cx="601.1" cy="984.3" rx="2" ry="1.3" transform="rotate(19 601.1 984.3)"/><ellipse cx="597.1" cy="986.9" rx="2" ry="1.3" transform="rotate(19 597.1 986.9)"/><ellipse cx="593.1" cy="989.5" rx="2" ry="1.3" transform="rotate(19 593.1 989.5)"/><ellipse cx="589.1" cy="992.0" rx="2" ry="1.3" transform="rotate(19 589.1 992.0)"/><ellipse cx="585.2" cy="994.6" rx="2" ry="1.3" transform="rotate(19 585.2 994.6)"/><ellipse cx="581.2" cy="997.1" rx="2" ry="1.3" transform="rotate(19 581.2 997.1)"/><ellipse cx="577.2" cy="999.7" rx="2" ry="1.3" transform="rotate(19 577.2 999.7)"/><ellipse cx="573.2" cy="1002.3" rx="2" ry="1.3" transform="rotate(19 573.2 1002.3)"/><ellipse cx="610.8" cy="983.7" rx="2" ry="1.3" transform="rotate(19 610.8 983.7)"/><ellipse cx="606.8" cy="986.3" rx="2" ry="1.3" transform="rotate(19 606.8 986.3)"/><ellipse cx="602.8" cy="988.9" rx="2" ry="1.3" transform="rotate(19 602.8 988.9)"/><ellipse cx="598.8" cy="991.4" rx="2" ry="1.3" transform="rotate(19 598.8 991.4)"/><ellipse cx="594.9" cy="994.0" rx="2" ry="1.3" transform="rotate(19 594.9 994.0)"/><ellipse cx="590.9" cy="996.6" rx="2" ry="1.3" transform="rotate(19 590.9 996.6)"/><ellipse cx="586.9" cy="999.1" rx="2" ry="1.3" transform="rotate(19 586.9 999.1)"/><ellipse cx="582.9" cy="1001.7" rx="2" ry="1.3" transform="rotate(19 582.9 1001.7)"/><ellipse cx="579.0" cy="1004.2" rx="2" ry="1.3" transform="rotate(19 579.0 1004.2)"/><ellipse cx="616.5" cy="985.7" rx="2" ry="1.3" transform="rotate(19 616.5 985.7)"/><ellipse cx="612.5" cy="988.3" rx="2" ry="1.3" transform="rotate(19 612.5 988.3)"/><ellipse cx="608.5" cy="990.8" rx="2" ry="1.3" transform="rotate(19 608.5 990.8)"/><ellipse cx="604.6" cy="993.4" rx="2" ry="1.3" transform="rotate(19 604.6 993.4)"/><ellipse cx="600.6" cy="996.0" rx="2" ry="1.3" transform="rotate(19 600.6 996.0)"/><ellipse cx="596.6" cy="998.5" rx="2" ry="1.3" transform="rotate(19 596.6 998.5)"/><ellipse cx="592.6" cy="1001.1" rx="2" ry="1.3" transform="rotate(19 592.6 1001.1)"/><ellipse cx="588.7" cy="1003.7" rx="2" ry="1.3" transform="rotate(19 588.7 1003.7)"/><ellipse cx="584.7" cy="1006.2" rx="2" ry="1.3" transform="rotate(19 584.7 1006.2)"/><ellipse cx="622.2" cy="987.7" rx="2" ry="1.3" transform="rotate(19 622.2 987.7)"/><ellipse cx="618.2" cy="990.3" rx="2" ry="1.3" transform="rotate(19 618.2 990.3)"/><ellipse cx="614.2" cy="992.8" rx="2" ry="1.3" transform="rotate(19 614.2 992.8)"/><ellipse cx="610.3" cy="995.4" rx="2" ry="1.3" transform="rotate(19 610.3 995.4)"/><ellipse cx="606.3" cy="997.9" rx="2" ry="1.3" transform="rotate(19 606.3 997.9)"/><ellipse cx="602.3" cy="1000.5" rx="2" ry="1.3" transform="rotate(19 602.3 1000.5)"/><ellipse cx="598.3" cy="1003.1" rx="2" ry="1.3" transform="rotate(19 598.3 1003.1)"/><ellipse cx="594.4" cy="1005.6" rx="2" ry="1.3" transform="rotate(19 594.4 1005.6)"/><ellipse cx="590.4" cy="1008.2" rx="2" ry="1.3" transform="rotate(19 590.4 1008.2)"/></g><ellipse class="t wf" cx="495.3" cy="961.6" rx="7.6" ry="3.9" transform="rotate(10 495.3 961.6)"/><ellipse class="t wf" cx="514.3" cy="968" rx="7.6" ry="3.9" transform="rotate(10 514.3 968)"/><ellipse class="t wf" cx="577.9" cy="988.4" rx="3.7" ry="2.5"/>
<!-- 2472 tray -->
<path class="t" d="M378.6,1002.4 L414.4,980.6 Q418,978.6 421.6,980 L622,1047.2 Q625.6,1048.6 625.3,1052 L624.4,1082 Q624,1085.4 621,1087.4 L589.7,1107.6 L379.8,1034.4 Z"/>
<path class="k15" d="M378.6,1002.4 L589.7,1075.5"/>
<path class="t" d="M589.7,1075.5 L625,1052.6 M589.7,1075.5 V1107.6"/>
<path class="t" d="M387,1001.6 Q384.4,999.4 388,997.2 L411,983.4 Q414.6,981.6 416.6,983.6 Q417.6,985.4 414.6,987.4 L391.6,1001.2 Q389,1002.6 387,1001.6 Z"/>
<path class="t" d="M593.4,1071.4 L617,1056.6 Q620.4,1055 620.6,1057.4 M596,1073.6 L620.6,1057.8"/>
<path class="t" d="M452.2,1026 L487.8,1004.4 M520.2,1049 L555.3,1027.7"/>
<path class="t" d="M473,1031.6 L477.6,1028.8 L479.2,1036 M477.6,1028.8 V1035"/>
<path class="t" d="M541.8,1055 L547.4,1053 L548.2,1059.6 M547.4,1053 V1059"/>
<path class="t wf" d="M570,1054.4 Q574.6,1052 579.8,1054 L578.6,1071 L571.4,1068.4 Z"/>
<path class="t" d="M575,1054 V1069.6 M579.8,1054.6 L584,1072"/>
<path class="t" d="M609.3,1067 L606.9,1095.4 M611.6,1066 L610,1093.2"/>
<!-- 2471 drawer -->
<path class="k17 wf" d="M349.6,1176 L613,1264 L612,1310 L348,1219 Z"/>
<path class="k17" d="M361,1171 L471,1102 L726,1190 L617,1258"/>
<path class="k15" d="M349.8,1176 L350,1173 L356,1170"/>
<path class="t" d="M381,1180.4 L414,1159 M389,1182.4 L412,1169 M418,1158 V1190"/>
<path class="t" d="M425,1157.6 L626.4,1225.6 M427,1167.6 L628,1232.4 L594,1253.2"/>
<path class="t" d="M381,1181 L588,1253 M389,1183 L530,1228.6"/>
<path class="t" d="M329,1181.6 L348.6,1188 M328,1194.4 L348.4,1201.2 M329,1181.6 L328,1194.4"/>
<rect class="t" x="343" y="1187.6" width="4.4" height="8.4" rx="1.4"/>
<path class="t" d="M620,1266 L725,1201"/>
<path class="t" d="M727,1191 L726,1222.6 Q725.4,1228 720,1228 L694,1220 M618,1274 L633,1265.6"/>
<ellipse class="t" cx="714.4" cy="1224" rx="1.8" ry="1.3"/>
<path class="t" d="M620,1282 L646,1290.2 L645,1304 L620,1296 Z"/>
<rect class="t" x="626.4" y="1285.4" width="5.6" height="8" rx="1"/>
<path class="t" d="M614.6,1264 L617.6,1262 M613,1304 L618,1306"/>

<!-- 0100 frame -->
<path class="k14" d="M97,1194.4 L93.6,1310 L90.9,1417.2 L129.1,1430.2"/>
<path class="k14" d="M135,1207.4 L131.6,1310 L129.1,1430.2"/>
<path class="k14" d="M97,1194.4 L437,1309.6 L435,1380 L430.2,1534.6 L392.7,1520.8 L397,1380 L399.6,1298"/>
<path class="k14" d="M135,1234.4 L398.4,1324"/>
<path class="t" d="M140,1237 L139,1310 L136.4,1427.4 L129.4,1430"/>
<path class="t" d="M97,1194.4 L105,1187.8 L444,1305.4 L441,1380 L438.2,1531 L430.4,1534.4"/>
<path class="t" d="M98.4,1192.6 L438.4,1307 L444,1305.4"/>
<path class="t" d="M115.6,1190.6 V1179 L121,1177 L438,1287 L433,1291 V1300.6"/>
<path class="t" d="M115.6,1179 L433,1291 M116,1184.6 L431,1292"/>
<!-- 7500 box -->
<path class="t wf" d="M161.6,1340 L165,1337.6 L176,1341.2 L228,1309 Q231,1306.6 234.6,1307.4 L326,1339 Q329.6,1340.4 329.6,1344 L325,1413 Q324.4,1418.6 320,1421.4 L286,1441 L285,1454 L281,1456.2 L159.6,1415 Z"/>
<path class="t" d="M161.6,1340 L284,1383 L288,1380.4 L278,1377 V1374 L328.6,1342"/>
<path class="t" d="M287,1381 L285,1454"/>
<path class="t" d="M165,1337.6 L176,1341.2"/>
<path class="k15" d="M175.6,1375 L190,1380 L189,1411 L174.4,1406 Z"/>
<path class="k14" d="M176.4,1377.4 L184,1380 M176.4,1404 L181.6,1405.8"/>
<path class="t" d="M185,1386.4 L188.6,1387.6 M184,1392.4 L188.2,1393.8 M185,1398.6 L188,1399.6"/>

<text x="313.0" y="93.6">0010</text>
<text x="688.2" y="270">4900</text>
<text x="464.6" y="443.4">3500</text>
<text x="687.8" y="696.3">3200</text>
<text x="687.8" y="724.6">3310</text>
<text x="27.0" y="653">9630</text>
<text x="439.5" y="734">0220</text>
<text x="800.4" y="792.8">7508</text>
<text x="925.6" y="774.8">0220</text>
<text x="1004.0" y="883">9630</text>
<text x="242.8" y="927.2">2479</text>
<text x="591.4" y="933.4">7509</text>
<text x="241.3" y="1018.2">2472</text>
<text x="246.2" y="1128">2471</text>
<text x="534.4" y="1413.3">0100</text>
<text x="276.4" y="1523.6">7500</text>
<text x="949.3" y="1537.6">80000647</text>
<path class="t" d="M370.5,86.5 H386.4 L460,115.1"/>
<path class="t" d="M744.5,260.5 H755 L791,277.6"/>
<path class="t" d="M520.4,436.5 H537.6 L665,364.6"/>
<path class="t" d="M537.6,436.5 L625,465.5"/>
<path class="t" d="M537.6,436.5 L515.8,472.5 H472.7"/>
<path class="t" d="M537.6,436.5 L500,514.5 H478.2"/>
<path class="t" d="M537.6,436.5 L576.6,512.5 M537.6,436.5 L575.5,527.5 M537.6,436.5 L573.6,542.5"/>
<path class="t" d="M624.5,641.5 L660.1,690.5 H684"/>
<path class="t" d="M553.3,659.9 L661.8,713.5 H684"/>
<path class="t" d="M88,644.5 H102.3 L89.5,700.1 M102.3,644.5 L139.1,704.2"/>
<path class="t" d="M324.5,757.6 L413.6,725 L435,726.2"/>
<path class="t" d="M689.1,814.5 L776.4,784.5 H797"/>
<path class="t" d="M922.9,766.5 H902.5 L884.7,852.7"/>
<path class="t" d="M1000.7,874.5 H978.2 L931.3,925.1 M978.2,874.5 L967.8,948.4"/>
<path class="t" d="M299,918.5 H316 L383.2,936.4"/>
<path class="t" d="M535.6,880.4 L567.5,923.5 H588"/>
<path class="t" d="M298.2,1010.5 H313.6 L380,1036.4"/>
<path class="t" d="M300,1119.5 H316.4 L397,1147"/>
<path class="t" d="M421.8,1437.6 L510,1406.5 H532"/>
<path class="t" d="M220,1417.5 L250.9,1514.5 H272.7"/>
</svg></body></html>
